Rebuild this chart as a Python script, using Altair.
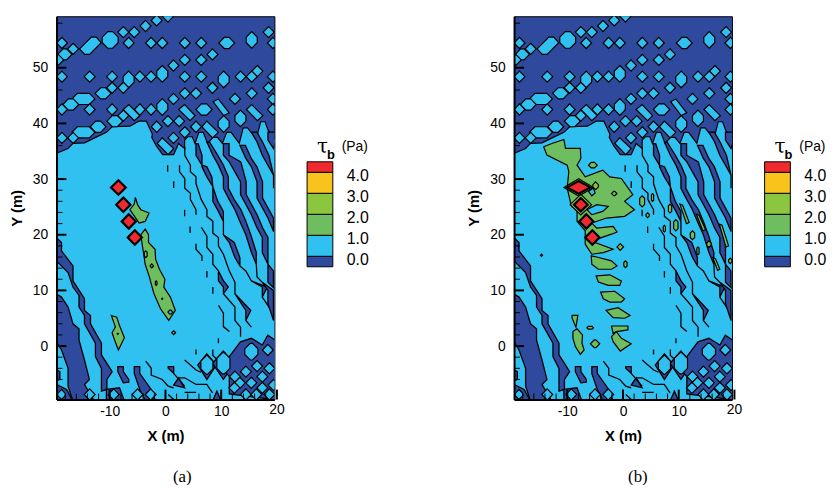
import altair as alt
import pandas as pd

DARK, LIGHT, GREEN, LIME, YELLOW, RED = "#2F4A9D", "#31C1F1", "#6EBE5F", "#8CC63F", "#F8C41C", "#EE2A30"
XCAL = 0.982
XDOM, YDOM = [-19.55, 19.55], [-9.6, 59.25]
W, H = 220, 387

# Contour region outlines (x m, y m)
LIGHT_REGION = [(-20, 34.6), (-17.8, 35.5), (-16.9, 36.4), (-14.8, 36.5), (-12.95, 37.4), (-10.8, 38.4), (-9.75, 39.4),
                (-6.5, 39.5), (-4.9, 40.4), (-3.5, 40.4), (-2.4, 38.1), (-2.5, 37.5), (-1.7, 36), (-.5, 34.4), (1.5, 34.4),
                (2.4, 36.4), (3.5, 35.5), (3.5, 37), (4.1, 37.6), (4.9, 37.6), (5.4, 36.4), (6.1, 38.4), (6.9, 38.4),
                (7.7, 36.4), (8.7, 37.5), (9.5, 37.5), (10.4, 36.4), (11.2, 38.4), (12, 38.4), (13.5, 36.4), (14.2, 39.2),
                (15, 39.2), (16.6, 37.2), (17.4, 40.3), (18.2, 40.3), (18.8, 38.7), (20.5, 36.6), (20.5, -10), (-20.5, -10)]

BAND_A = [(-20.5, 9.7), (-19, 8.8), (-17.8, 7), (-16.9, 4), (-15.8, 3.1), (-15.8, 1.1), (-14.8, -2.5), (-13.9, -6), (-14.8, -6.9),
          (-13.7, -8.7), (-13, -9.9), (-16.9, -9.9), (-17.8, -7.2), (-17.8, -4), (-19, -.7), (-20.5, 1.7)]
BAND_B = [(-20.5, 20), (-19, 18.6), (-19, 17.1), (-16.9, 14.4), (-16.9, 11.7), (-14.8, 8.5), (-14.8, 6.4), (-13.7, 5.5), (-13.7, 4),
          (-11.7, .5), (-11.7, -1.6), (-10.7, -3.1), (-9.75, -4.6), (-10.7, -6), (-10.7, -7.8), (-11.7, -8.1), (-11.7, -4), (-12.8, -1.9),
          (-12.8, .5), (-14.8, 4), (-14.8, 5.5), (-15.8, 7), (-15.8, 9.1), (-16.9, 10.6), (-17.8, 13.2), (-20.5, 15.9)]
DARK_PATCHES = [
    [(-20.5, -4), (-19.3, -4.6), (-19.3, -6), (-20.5, -6.3)],
    [(-20.5, -6.6), (-18.07, -7.8), (-16.9, -9.9), (-20.5, -9.9)],
    [(-10.8, -7.8), (-8.4, -7.5), (-7.5, -9.9), (-10.8, -9.9)],
    [(-8.7, -3.7), (-7.7, -3.7), (-7.7, -4.6), (-6.7, -6), (-6.7, -6.5), (-7.7, -6.6), (-8.7, -4.6)],
    [(-5.7, -3.7), (-4.7, -3.7), (-4.7, -4.9), (-2.6, -7.8), (-1.8, -9.9), (-3.6, -9.9), (-4.7, -7.8), (-5.7, -4.9)],
    [(.5, -3.7), (1.5, -3.7), (1.5, -4.9), (.5, -4)],
    [(1.5, -7), (2.4, -5.7), (3.5, -7.5)],
    [(8.6, -9.9), (9.4, -8.1), (10.2, -9.9)],
    [(7.57, -1.4), (9.3, -3.4), (7.57, -6), (5.9, -3.4)],
    [(10.59, -.9), (12.6, -3.1), (10.59, -6), (8.6, -3.1)],
    [(11.67, -1.9), (13.7, .77), (15.7, 1.4), (17.7, .2), (18.7, 1.96), (20.5, .77), (20.5, -9.9), (18.1, -9.4), (11.67, -8.6),
     (11.67, -5.45), (10.6, -4.3)],
]

# x, y, half-width, half-height of the isolated contour islands
LIGHT_ISLANDS = [
    (.45, 59.2, 1, 1), (-1.6, 58.5, 1, 1), (-3.65, 57.5, 1, 1), (-5.7, 56.4, 1, 1), (-7.7, 56.4, 1, 1), (18.85, 56.4, 1, 1),
    (-18.92, 54.45, 1, 1), (-6.73, 54.45, 1, 1), (-2.63, 54.45, 1, 1), (-.58, 54.45, 1, 1), (3.53, 54.45, 1, 1), (6.54, 54.45, 1, 1),
    (11.2, 54.45, 1.45, 1), (15.77, 55, 1, 1.5), (19.63, 54.45, 1, 1), (-10.1, 55, 1.45, 1.5),
    (-16.87, 53.4, 1, 1), (8.59, 52.4, 1, 1), (3.53, 51.4, 1, 1), (6.54, 51.4, 1, 1), (-18.4, 52.4, 1.3, 1), (-19.6, 51.4, 1, 1),
    (1.47, 50.4, 1, 1), (16.8, 49.4, 1, 1),
    (-18.92, 48.4, 1, 1), (-13.85, 48.4, 1, 1), (-9.75, 48.4, 1, 1), (-6.73, 47.9, 1, 1.5), (-4.68, 48.4, 1, 1), (-2.63, 48.4, 1, 1),
    (-.58, 48.9, 1, 1.5), (3.53, 48.4, 1, 1), (6.54, 48.4, 1, 1), (10.64, 47.9, 1, 1.5), (13.72, 48.4, 1, 1), (15.77, 48.4, 1, 1), (19.63, 48.4, 1, 1),
    (-9.75, 46.4, 1, 1), (-7.7, 46.4, 1, 1), (8.59, 46.4, 1, 1), (18.85, 46.4, 1, 1), (-11.4, 45.4, 1.45, 1),
    (3.53, 45.4, 1, 1), (5.58, 45.4, 1, 1), (15.77, 45.4, 1, 1), (19.63, 44.4, 1, 1),
    (1.47, 44.4, 1, 1), (12.7, 44.4, 1, 1), (-15, 44.4, 2.1, 1), (-17.3, 43.4, 1.45, 1), (-18.92, 42.5, 1, 1), (-13.85, 42.5, 1, 1),
    (-9.75, 42.5, 1, 1), (-4.68, 42.5, 1, 1), (-2.63, 42.5, 1, 1), (-.58, 42.95, 1, 1.5), (7.05, 42.5, 1.5, 1), (19.63, 42.5, 1, 1),
    (13.7, 40.9, 1, 1.5), (.45, 40.4, 1, 1), (2.5, 40.4, 1, 1), (-9.25, 40.4, 1.45, 1), (-7.7, 41.4, 1, 1), (10.64, 39.9, 1, 1.5),
    (-1.6, 39.4, 1, 1), (5.58, 39.4, 1, 1), (-12.3, 39.4, 1.45, 1), (-15, 38.4, 2.1, 1), (3.53, 38.4, 1, 1), (-18.92, 37.4, 1, 1),
    (-16.87, 37.4, 1, 1), (1.47, 37.4, 1, 1),
    # lattice, lower right
    (7.57, -3.4, 1.1, 1.7), (10.59, -3.1, 1.2, 1.9), (15.7, -1, 1.2, 1.5), (18.7, -.7, 1, 1), (16.74, -3.6, 1, 1), (14.7, -4.6, 1, 1), (19, -4, 1, 1),
    (12.7, -5.5, 1, 1), (17.7, -5.5, 1, 1), (15.7, -6.6, 1, 1), (13.6, -6.6, 1, 1), (19.75, -7, 1, 1), (12.6, -7.5, 1, 1), (17.7, -7.5, 1, 1),
    (14.7, -8.7, 1, 1), (16.6, -8.7, 1, 1), (19, -8.7, 1, 1),
    # lattice, bottom edge
    (-19, -8.7, .7, .9), (-13.85, -8.7, 1, 1), (-9.45, -8.7, 1, 1), (-5.1, -8.7, 1, 1), (-2.7, -8.7, 1, 1),
]
LIGHT_DIAGONALS = [
    [(-15.7, 53.4), (-13.55, 55.5), (-12.65, 55.5), (-11.75, 54.5), (-13.85, 52.4), (-14.75, 52.4)],
    [(8.7, 43.9), (9.66, 44.4), (11.65, 41.9), (10.64, 41.4)],
    [(2.4, 42.5), (3.5, 43.4), (5.4, 41.4), (4.5, 40.5)],
    [(14.8, 42.5), (15.75, 43.4), (17.8, 41.4), (16.8, 40.5)],
    [(6.65, 39.4), (7.55, 40.4), (9.66, 38.4), (8.6, 37.4)],
    [(-7.7, 42.5), (-6.7, 43.4), (-4.7, 41.4), (-5.7, 40.5)],
    [(-1.5, 36.4), (-.6, 37.4), (1.5, 35.5), (.5, 34.4)],
]

# Dark channels: x, y of the lower-left edge, and dark width to the right
CHANNELS = [
    [(2.57, 32.5, 0), (2.57, 31.3, 0), (3.53, 30.1, 0), (3.53, 28.35, 0), (4.56, 27.46, 0), (4.56, 26.3, 0), (5.58, 24.5, 0), (5.58, 23.6, 0)],
    [(.4, 32.5, 0), (.4, 31.3, 0)], [(1.5, 29.6, 0), (1.5, 28.4, 0)], [(3.5, 24.5, 0), (3.5, 23.3, 0)], [(4.5, 21.5, 0), (4.5, 20.3, 0)],
    [(3.53, 35.76, 0), (3.53, 34.28, 0), (4.56, 32.5, 0), (4.56, 31.3, 0), (5.58, 30.4, 0), (5.58, 29.2, 0), (6.55, 26.3, 0), (7.57, 24.5, 0),
     (7.57, 23.3, 0), (8.66, 22.4, 0), (8.66, 20.3, 0), (9.68, 19.5, 0), (9.68, 18, 0), (10.59, 16.5, 0), (11.67, 13.5, 0), (12.7, 11.45, 0),
     (12.7, 9.4, 0), (14.69, 6.4, .9), (14.69, 4.6, 0), (15.71, 3.4, 0)],
    [(5.58, 36.35, .4), (5.58, 34.28, 1.1), (6.67, 32.5, 0), (6.67, 32.2, .9), (7.57, 30.4, .9), (8.66, 28.65, 0), (8.66, 26, .9), (9.68, 24.2, .9),
     (10.59, 22.4, 0), (10.59, 20, 0), (11.67, 18.6, .9), (12.7, 15.9, .9), (13.6, 14.4, 0), (14.69, 13.5, 0), (15.71, 11.7, 0), (17.7, 10.6, .9),
     (17.7, 8.8, 0), (19.75, 5.8, 0)],
    [(7.57, 36.65, .5), (8.66, 34.28, .9), (9.68, 32.5, .9), (10.59, 30.4, .9), (10.59, 28.35, .9), (11.67, 26.3, .9), (12.7, 24.5, 1.1), (13.6, 22.4, 1.1),
     (14.69, 20, .9), (15.71, 16.8, .9), (16.6, 14.7, 0), (16.74, 12.4, 0), (17.7, 11.45, 0), (18.73, 10, 1), (18.73, 7.6, 1), (19.75, 4.6, 0)],
    [(10.59, 36.35, 1.03), (10.59, 34.28, 1.03), (11.67, 33.1, 2.1), (13.72, 29.5, 1.03), (13.72, 27.2, 1.03), (15.71, 23.6, 1.03), (16.74, 21.2, 1.03),
     (17.7, 19.5, 1.03), (17.7, 16.8, 1.03), (18.73, 14.7, 0), (18.73, 13.5, 1), (18.73, 11.45, 1), (19.75, 10.5, 0)],
    [(13.6, 36.06, 1), (14.69, 33.7, 1), (15.71, 32.2, 1), (16.74, 29.5, 1), (16.74, 26.6, 1), (18.73, 23, 1), (19.75, 20.6, 0)],
    [(15.71, 38.43, 1), (16.74, 36.65, 1), (17.7, 34.28, 1.2), (19.75, 30.7, 0), (19.75, 28.35, 0)],
    [(18.73, 38.43, 1.5), (18.73, 37, 1.5), (19.75, 35.5, 0)],
    [(6.55, 21.35, 0), (7.57, 19.75, 0), (7.57, 17.7, 0), (8.66, 16.5, 0), (8.66, 14.7, 0), (9.68, 13.5, 0), (9.68, 11.75, .9), (10.59, 10.6, .9),
     (10.59, 9.4, 0), (12.7, 7, 0), (12.7, 4.6, 0), (13.72, 3.4, 0), (13.72, 1.66, 0)],
    [(5.58, 18.4, 0), (5.58, 17.4, 0), (6.67, 16.2, 0), (6.67, 15.3, 0)], [(7.57, 13.5, 0), (7.57, 12.3, 0)], [(8.66, 10.6, 0), (8.66, 9.4, 0)],
    [(9.68, 7.3, 0), (10.59, 5.9, 0), (10.59, 3.5, 0), (11.67, 2.6, 0)], [(9.68, 1.4, 0), (9.68, .5, 0)], [(5.58, -.6, 0), (5.58, -1.5, 0)],
    [(8.66, -.6, 0), (8.66, -1.7, 0), (9.68, -2.6, 0)],
    [(-3.6, -2.7, 0), (-2.6, -4, 0), (-2.6, -5.2, 0), (-.6, -6, 0), (.5, -7.2, 0), (1.5, -7.5, 0)],
    [(1.5, -4.9, 0), (3.5, -7.2, 0)], [(3.5, -2.5, 0), (5.6, -4.3, 0), (6.5, -4.7, 0)],
    [(2.4, -5.7, 0), (3.5, -5.7, 0), (5.6, -6.9, 0), (7.55, -6.9, 0), (8.6, -8.4, 0)],
    [(.5, -8.7, 0), (1.5, -9.6, 0)], [(3.5, -8.3, 0), (5.6, -8.3, 0)],
]

GREEN_A = [
    [(-3.7, 21), (-3.1, 20), (-3.1, 18.6), (-1.9, 17.4), (-1.8, 15.6), (-1.1, 13.8), (-.1, 12), (-.3, 10.6), (.9, 8.8), (1.8, 6.4), (.6, 4.6),
     (-.9, 6.7), (-2.1, 9.4), (-3, 12.6), (-3.7, 14.7), (-4.3, 18.6), (-4.5, 20)],
    [(-5.5, 26.7), (-5.1, 25.4), (-4.5, 24.5), (-3, 23.9), (-3.7, 22.4), (-4.8, 22.1), (-6.5, 24.5), (-5.7, 25.5)],
    [(-9.9, 5.5), (-8.9, 5.2), (-8.4, 3.7), (-7.5, 1.5), (-8.6, -.7), (-9.3, 1.1), (-9.75, 2.4), (-9.15, 3.45)],
]
GREEN_A_SMALL = [(1.5, 2.4, .35, .35), (-3.6, 16.5, .25, .6), (-2.5, 14.4, .3, .35), (-1.7, 11.3, .15, .4), (-8.7, 2.2, .1, .1), (-.6, 8.5, .1, .1)]
LIGHT_A_HOLES = [(.9, 6.1, .45, .35)]
RED_A = [(-8.6, 28.5, 1.35, 1.3), (-7.7, 25.4, 1.3, 1.3), (-6.7, 22.4, 1.3, 1.3), (-5.6, 19.5, 1.3, 1.3)]

GREEN_B = [
    [(-14.5, 35.8), (-13, 36.4), (-10.8, 37.1), (-10.5, 35.5), (-7.8, 35.5), (-7.7, 33.7), (-8.4, 32.5), (-6.9, 30.4), (-3.7, 31.6), (-2.4, 30.4),
     (-.3, 30.1), (1.8, 27.2), (.3, 26), (2.1, 24.5), (.3, 23.3), (-3, 23), (-5.7, 22.1), (-4.8, 21.2), (-1.8, 21.5), (-1.1, 20.5), (-2.1, 20.1),
     (-4.5, 19.3), (-5.1, 18.6), (-1.8, 17.4), (-3.6, 16.8), (-5.7, 16.5), (-6.9, 18.3), (-6.9, 20.7), (-8.4, 22.4), (-8.4, 24.2), (-9.5, 25.4),
     (-10.2, 28.4), (-9.9, 31.3), (-10.2, 32.5), (-13.9, 34.3)],
    [(-5.8, 16.2), (-4.8, 16), (-2.1, 15.3), (-1.1, 14.4), (-2.1, 13.8), (-4.5, 13.8), (-5.7, 14.7)],
    [(-4.9, 12.6), (-2.4, 12.8), (-.3, 11.7), (-.6, 10.9), (-2.7, 10.9), (-4.5, 11.5)],
    [(-4.1, 9.7), (-1.5, 9.85), (.3, 8.5), (-.3, 7.9), (-2.4, 7.9), (-3.6, 8.5)],
    [(-3.1, 6.4), (-.9, 6.9), (1.3, 5.5), (.3, 5), (-1.8, 5.1)],
    [(-2.1, 3.6), (.9, 3.6), (.9, 2.9), (-1.2, 2.6), (-1.8, 2.3)],
    [(-2.1, 1.7), (-1.2, 2.6), (-.3, 1.4), (1.5, .4), (-.5, -.9), (-1.8, .8)],
    [(-9.3, 5.5), (-8.25, 5.5), (-8.6, 3.4), (-9.3, 5)],
    [(-9.15, 2.6), (-8.4, 3.1), (-7.4, 2), (-7.5, .5), (-7.1, -.7), (-7.8, -1.5), (-8.7, -.1), (-9.15, 1.4)],
    [(10.4, 25.5), (10.9, 25.3), (12.1, 22.2), (11.6, 22)],
    [(13.4, 23.7), (13.9, 23.5), (15.1, 20.9), (14.6, 20.7)],
    [(17.6, 21.9), (18.1, 21.7), (19.3, 18), (18.8, 17.8)],
    [(16.4, 15.9), (16.9, 15.7), (17.7, 13.8), (17.3, 13.6)],
]
GREEN_B_SMALL = [(-5.5, 32.5, .8, .5), (-1.6, 27.4, .5, .4), (3.5, 26, .45, 1), (5.4, 26.7, .2, .7), (-5.1, .4, .85, .7), (-6, 3.3, .6, .25),
                 (-.5, 17.8, .6, .6), (.45, 14.7, .3, .6), (-14.9, 16.3, .2, .2), (4.5, 23.5, .3, .45), (7.55, 21.1, .2, .6), (9.66, 21.7, .4, 1),
                 (8.6, 24.7, .3, .8), (12.7, 19.9, .4, .8), (15.7, 18.3, .4, .6), (13.7, 17.1, .2, .7), (19.6, 15.3, .3, .5)]
LIME_B_SMALL = [(-5, 28.8, .5, .7)]
LIGHT_B_HOLES = [[(-6.3, 27.8), (-5.4, 28.4), (-5.1, 27.5), (-5.7, 27)],
                 [(-6.6, 24.5), (-4.8, 25.4), (-2.7, 25.1), (-3.7, 24.2), (-5.7, 23.6)]]
RED_B = [(-8.1, 28.5, 2.1, 1.15), (-7.7, 25.4, 1.25, 1.2), (-6.7, 22.4, 1.3, 1.3), (-5.6, 19.5, 1.3, 1.3)]
LIME_B_RINGS = [(-8.1, 28.5, 2.7, 1.55), (-7.7, 25.4, 1.95, 1.85)]

LEVELS = [-.5, 0, 1, 2, 3, 4, 4.5]
LEVEL_COLORS = [DARK, LIGHT, GREEN, LIME, YELLOW, RED]
LEVEL_LABELS = ["0.0", "1.0", "2.0", "3.0", "4.0"]
LABEL_VALUES = [0, 1, 2, 3, 4]
X_LABELS = [-10, 0, 10]
X_END_LABEL = [20]
Y_LABELS = [0, 10, 20, 30, 40, 50]
X_MINOR = [-18, -16, -14, -12, -8, -6, -4, -2, 2, 4, 6, 8, 12, 14, 16, 18]
Y_MINOR = [58, 46, 36, 28, 26, 24, 22, 18, 16, 14, 12, 8, 6, 4, 2, -2, -4, -6]


def island(cx, cy, rx, ry):
    c = min(rx, ry, 1)
    return [(cx + rx - c, cy + ry), (cx + rx, cy + ry - c), (cx + rx, cy - ry + c), (cx + rx - c, cy - ry),
            (cx - rx + c, cy - ry), (cx - rx, cy - ry + c), (cx - rx, cy + ry - c), (cx - rx + c, cy + ry)]


def lozenge(cx, cy, rx, ry):
    return [(cx, cy + ry), (cx + rx, cy), (cx, cy - ry), (cx - rx, cy)]


def channel(rows):
    return [(x, y) for x, y, _ in rows] + [(x + w, y) for x, y, w in reversed(rows)]


def table(polys):
    return pd.DataFrame([{"id": i, "k": k, "x": x * XCAL, "y": y} for i, p in enumerate(polys) for k, (x, y) in enumerate(p)])


xs = alt.Scale(domain=XDOM, nice=False, zero=False)
ys = alt.Scale(domain=YDOM, nice=False, zero=False)
XA = alt.Axis(values=X_LABELS, title="X (m)", labelExpr="'' + datum.value", grid=False, ticks=False, labelPadding=5, labelFont="Liberation Sans", labelFontSize=14,
              labelColor="black", titleFont="Liberation Sans", titleFontSize=15, titleFontWeight="bold", titleColor="black", titlePadding=10,
              domainColor="black", domainWidth=2, labelFlush=False, labelOverlap=False, zindex=2)
YA = alt.Axis(values=Y_LABELS, title="Y (m)", format="d", grid=False, ticks=False, labelPadding=9, labelFont="Liberation Sans", labelFontSize=14,
              labelColor="black", titleFont="Liberation Sans", titleFontSize=15, titleFontWeight="bold", titleColor="black", titlePadding=8,
              domainColor="black", domainWidth=2, labelFlush=False, labelOverlap=False, zindex=2)


def polys(p, fill, sw=1.2):
    return alt.Chart(table(p)).mark_line(fill=fill, stroke="black", strokeWidth=sw, interpolate="linear-closed", clip=True).encode(
        x=alt.X("x:Q", scale=xs, axis=XA), y=alt.Y("y:Q", scale=ys, axis=YA), detail="id:N", order="k:Q")


def axes():
    xmaj = alt.Chart(pd.DataFrame({"x": X_LABELS + X_END_LABEL})).mark_rule(color="black", strokeWidth=2, clip=False).encode(
        x=alt.X("x:Q", scale=xs, axis=XA), y=alt.value(H), y2=alt.value(H - 10))
    xmin = alt.Chart(pd.DataFrame({"x": X_MINOR})).mark_rule(color="black", strokeWidth=1).encode(
        x=alt.X("x:Q", scale=xs, axis=XA), y=alt.value(H), y2=alt.value(H - 6))
    ymaj = alt.Chart(pd.DataFrame({"y": Y_LABELS})).mark_rule(color="black", strokeWidth=2).encode(
        y=alt.Y("y:Q", scale=ys, axis=YA), x=alt.value(0), x2=alt.value(10))
    ymin = alt.Chart(pd.DataFrame({"y": Y_MINOR})).mark_rule(color="black", strokeWidth=1).encode(
        y=alt.Y("y:Q", scale=ys, axis=YA), x=alt.value(0), x2=alt.value(6))
    xend = alt.Chart(pd.DataFrame({"x": X_END_LABEL, "t": [str(v) for v in X_END_LABEL]})).mark_text(
        font="Liberation Sans", fontSize=14, color="black", clip=False, baseline="middle").encode(
        x=alt.X("x:Q", scale=xs, axis=XA), text="t:N", y=alt.value(H + 11))
    return [xmaj, xmin, ymaj, ymin, xend]


def caption(t, x):
    return alt.Chart(pd.DataFrame({"t": [t]})).mark_text(font="Liberation Serif", fontSize=17, color="black", clip=False).encode(
        text="t:N", x=alt.value(x), y=alt.value(465))


def common():
    return [polys([LIGHT_REGION], LIGHT),
            polys([BAND_A, BAND_B] + DARK_PATCHES + [channel(c) for c in CHANNELS], DARK, 1.3),
            polys([island(*b) for b in LIGHT_ISLANDS] + LIGHT_DIAGONALS, LIGHT)]


view = alt.ViewConfig(fill=DARK, stroke="black", strokeWidth=1)

panel_a = alt.layer(
    *common(),
    polys(GREEN_A + [island(*b) for b in GREEN_A_SMALL], GREEN),
    polys([island(*b) for b in LIGHT_A_HOLES], LIGHT),
    polys([lozenge(*b) for b in RED_A], RED, 2.2),
    *axes(), caption("(a)", 127),
).properties(width=W, height=H, view=view)

panel_b = alt.layer(
    *common(),
    polys(GREEN_B + [island(*b) for b in GREEN_B_SMALL], GREEN),
    polys(LIGHT_B_HOLES, LIGHT),
    polys([lozenge(*b) for b in LIME_B_RINGS] + [island(*b) for b in LIME_B_SMALL], LIME),
    polys([lozenge(*b) for b in RED_B], RED, 2.2),
    *axes(), caption("(b)", 125),
).properties(width=W, height=H, view=view)


def key(width):
    ls = alt.Scale(domain=[-6.82, 11.43], nice=False, zero=False)
    bars = pd.DataFrame({"lo": LEVELS[:-1], "hi": LEVELS[1:], "c": LEVEL_COLORS})
    rects = alt.Chart(bars).mark_rect(stroke="black", strokeWidth=1).encode(
        y=alt.Y("lo:Q", scale=ls, axis=None), y2="hi:Q", x=alt.value(0), x2=alt.value(26), fill=alt.Fill("c:N", scale=None))
    labs = alt.Chart(pd.DataFrame({"v": LABEL_VALUES, "t": LEVEL_LABELS})).mark_text(
        font="Liberation Sans", fontSize=16, align="left", dy=4, color="black").encode(
        y=alt.Y("v:Q", scale=ls, axis=None), text="t:N", x=alt.value(40))

    def head(t, x, y, size, weight="normal", font="Liberation Sans", align="left"):
        return alt.Chart(pd.DataFrame({"t": [t]})).mark_text(font=font, fontSize=size, fontWeight=weight, align=align, color="black").encode(
            text="t:N", x=alt.value(x), y=alt.value(y))
    return alt.layer(rects, labs, head("τ", 10, 132, 20, font="DejaVu Serif"), head("b", 20, 140, 13, "bold"),
                     head("(Pa)", 35, 132, 14)).properties(width=width, height=H, view=alt.ViewConfig(stroke=None, fill=None))


chart = alt.hconcat(panel_a, key(176), panel_b, key(60), spacing=33, bounds="flush").properties(
    padding={"left": 0, "top": 5, "right": 0, "bottom": -3})
chart.save("out.html", embed_options={"renderer": "svg", "actions": False})
